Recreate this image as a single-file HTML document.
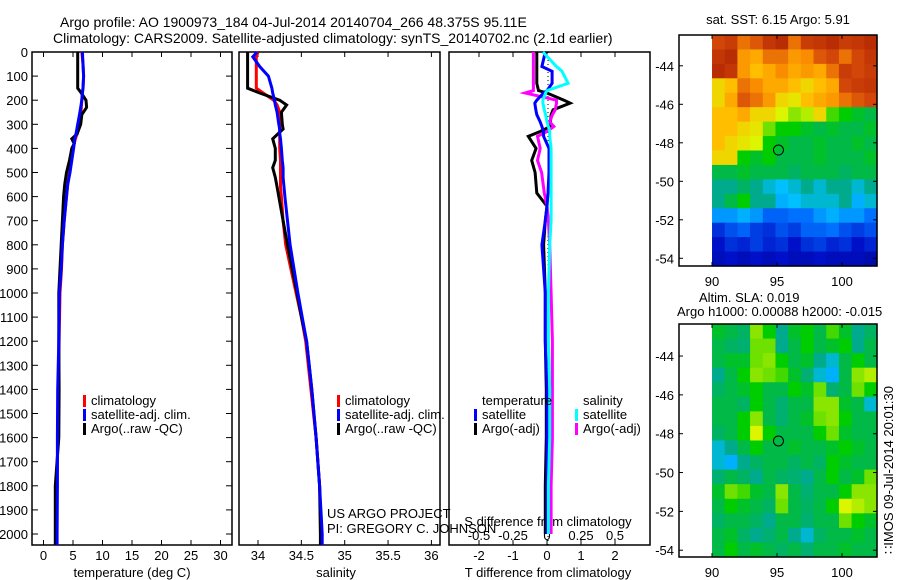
<!DOCTYPE html>
<html><head><meta charset="utf-8"><style>
body{margin:0;background:#fff;}
svg{display:block;font-family:"Liberation Sans",sans-serif;}
text{font-size:13px;fill:#000;}
</style></head><body>
<svg id="chart" width="900" height="580" viewBox="0 0 900 580" xmlns="http://www.w3.org/2000/svg">
<text x="60" y="27" style="font-size:14px">Argo profile: AO 1900973_184 04-Jul-2014 20140704_266 48.375S 95.11E</text>
<text x="53" y="43" style="font-size:14px">Climatology: CARS2009. Satellite-adjusted climatology: synTS_20140702.nc (2.1d earlier)</text>
<g id="g"></g>
</svg>
<script>
// ---- data ----
const depthTicks=[0,100,200,300,400,500,600,700,800,900,1000,1100,1200,1300,1400,1500,1600,1700,1800,1900,2000];
const tTicks=[0,5,10,15,20,25,30];
const sTicks=[34,34.5,35,35.5,36];
const dtTicks=[-2,-1,0,1,2];
const dsTicks=[-0.5,-0.25,0,0.25,0.5];
const dsTickLabels=["-0.5","-0.25","0","0.25","0.5"];
const tDepth=[0,50,100,150,170,200,230,260,300,340,360,380,400,450,500,550,600,700,800,900,1000,1200,1400,1600,1800,2000,2046];
const tClim=[6.5,6.7,6.8,6.7,6.6,6.5,6.4,6.3,6.0,5.7,5.4,5.2,5.0,4.7,4.4,4.1,3.9,3.5,3.2,3.05,2.8,2.65,2.5,2.4,2.3,2.2,2.0];
const tArgo=[5.8,5.8,5.8,5.8,6.4,7.2,7.3,6.5,6.3,5.7,4.8,5.2,4.8,4.4,3.9,3.6,3.4,3.2,3.0,2.8,2.6,2.6,2.65,2.6,2.0,2.0,2.0];
const tSat=[6.6,6.7,6.8,6.7,6.6,6.5,6.3,6.1,5.8,5.5,5.3,5.2,5.1,4.8,4.5,4.1,3.9,3.5,3.2,3.0,2.7,2.6,2.4,2.35,2.35,2.3,2.3];
const sDepth=[0,20,60,100,150,170,200,220,250,300,320,340,360,400,450,480,520,560,600,700,800,1000,1100,1200,1400,1600,1800,2000,2046];
const sClim=[34.0,33.98,33.98,33.98,33.98,34.06,34.18,34.22,34.25,34.25,34.25,34.25,34.25,34.25,34.26,34.26,34.26,34.26,34.27,34.29,34.32,34.44,34.5,34.55,34.61,34.67,34.71,34.73,34.73];
const sArgo=[33.88,33.88,33.88,33.88,33.88,34.02,34.25,34.33,34.27,34.28,34.29,34.23,34.17,34.2,34.2,34.17,34.2,34.22,34.24,34.29,34.34,34.45,34.5,34.56,34.62,34.67,34.71,34.72,34.72];
const sSat=[33.99,33.94,34.02,34.12,34.16,34.17,34.19,34.2,34.22,34.24,34.25,34.25,34.26,34.27,34.28,34.29,34.29,34.3,34.31,34.34,34.37,34.46,34.51,34.56,34.62,34.67,34.71,34.74,34.74];
const dDepth=[0,60,80,130,160,170,200,212,240,260,290,309,330,350,400,450,500,585,640,700,800,1000,1200,1400,1600,1800,2000];
const dTArgo=[-0.3,-0.3,-0.3,-0.3,-0.25,0,0.5,0.68,0.18,0.12,0.1,0.1,-0.2,-0.55,-0.32,-0.45,-0.35,-0.3,0,-0.05,-0.1,-0.05,-0.05,-0.02,-0.02,-0.05,-0.05];
const dTSat=[-0.05,-0.15,0.15,0.15,0.0,-0.1,-0.3,-0.36,-0.33,-0.3,-0.2,-0.15,-0.1,-0.1,0.06,0.06,0.06,0.03,0.0,-0.05,-0.15,-0.05,-0.05,0,0,0,0];
const dSSat=[-0.03,0.07,0.11,0.155,0.0,-0.01,-0.03,-0.03,-0.02,-0.01,0.0,0.01,0.02,0.02,0.03,0.03,0.03,0.03,0.03,0.03,0.02,0.01,0.01,0.02,0.02,0.01,0.01];
const dSArgo=[-0.1,-0.1,-0.1,-0.1,-0.1,-0.16,0.07,0.07,0.06,0.04,0.02,0.05,0.0,-0.07,-0.05,-0.07,-0.04,-0.02,0.0,0.01,0.02,0.03,0.04,0.04,0.04,0.03,0.03];
const lonTicks=[90,95,100];
const latTicks=[-44,-46,-48,-50,-52,-54];
const sstGrid=[
[0.9,0.92,0.85,0.88,0.93,0.95,0.85,0.92,0.93,0.95,0.92,0.93,0.95],
[0.93,0.95,0.8,0.78,0.85,0.85,0.8,0.82,0.88,0.9,0.85,0.9,0.93],
[0.95,0.93,0.8,0.75,0.78,0.82,0.78,0.8,0.78,0.85,0.92,0.9,0.92],
[0.72,0.75,0.85,0.82,0.78,0.78,0.75,0.72,0.75,0.78,0.9,0.92,0.93],
[0.72,0.78,0.88,0.85,0.8,0.72,0.7,0.75,0.78,0.8,0.85,0.88,0.9],
[0.75,0.75,0.78,0.72,0.72,0.68,0.62,0.65,0.72,0.58,0.55,0.52,0.5],
[0.75,0.75,0.72,0.7,0.6,0.55,0.55,0.52,0.5,0.52,0.5,0.5,0.52],
[0.75,0.72,0.7,0.68,0.55,0.52,0.5,0.5,0.52,0.5,0.5,0.52,0.5],
[0.72,0.72,0.55,0.52,0.55,0.5,0.5,0.5,0.52,0.5,0.5,0.5,0.52],
[0.5,0.5,0.52,0.5,0.5,0.5,0.48,0.5,0.5,0.5,0.48,0.5,0.5],
[0.45,0.45,0.48,0.45,0.42,0.4,0.42,0.45,0.42,0.45,0.45,0.42,0.45],
[0.45,0.5,0.55,0.45,0.45,0.38,0.4,0.42,0.42,0.42,0.45,0.38,0.42],
[0.35,0.35,0.38,0.35,0.28,0.28,0.3,0.3,0.35,0.38,0.35,0.35,0.3],
[0.2,0.25,0.28,0.22,0.2,0.25,0.22,0.28,0.28,0.3,0.25,0.22,0.25],
[0.15,0.2,0.18,0.22,0.18,0.2,0.15,0.2,0.22,0.18,0.2,0.15,0.18],
[0.12,0.15,0.12,0.15,0.12,0.15,0.12,0.12,0.15,0.12,0.12,0.12,0.1]];
const slaGrid=[
[0.52,0.5,0.48,0.62,0.55,0.45,0.52,0.55,0.5,0.58,0.52,0.45,0.48],
[0.5,0.48,0.47,0.6,0.6,0.45,0.5,0.55,0.5,0.52,0.55,0.45,0.5],
[0.5,0.52,0.52,0.6,0.62,0.55,0.5,0.52,0.45,0.42,0.5,0.55,0.5],
[0.45,0.5,0.55,0.62,0.6,0.58,0.52,0.47,0.42,0.38,0.5,0.62,0.65],
[0.48,0.5,0.52,0.55,0.5,0.5,0.55,0.52,0.6,0.47,0.5,0.6,0.55],
[0.5,0.5,0.48,0.55,0.5,0.47,0.5,0.5,0.62,0.62,0.52,0.5,0.42],
[0.5,0.5,0.55,0.62,0.5,0.47,0.5,0.52,0.6,0.62,0.55,0.5,0.5],
[0.48,0.5,0.55,0.68,0.55,0.5,0.5,0.5,0.55,0.6,0.52,0.5,0.5],
[0.42,0.45,0.5,0.55,0.5,0.5,0.52,0.5,0.5,0.52,0.55,0.52,0.5],
[0.42,0.38,0.45,0.48,0.5,0.5,0.48,0.5,0.48,0.55,0.52,0.5,0.5],
[0.47,0.5,0.48,0.45,0.5,0.48,0.47,0.45,0.5,0.55,0.5,0.52,0.6],
[0.52,0.6,0.58,0.52,0.5,0.62,0.5,0.47,0.5,0.5,0.55,0.62,0.62],
[0.5,0.55,0.52,0.5,0.48,0.6,0.5,0.48,0.5,0.55,0.68,0.65,0.62],
[0.48,0.5,0.5,0.48,0.45,0.5,0.5,0.47,0.5,0.5,0.6,0.55,0.52],
[0.5,0.52,0.48,0.45,0.47,0.5,0.45,0.42,0.48,0.5,0.5,0.52,0.5],
[0.5,0.55,0.5,0.52,0.5,0.48,0.5,0.47,0.5,0.5,0.52,0.5,0.5]];
const argoLon=[95.11];
const argoLat=[-48.375];

// ---- helpers ----
const NS="http://www.w3.org/2000/svg";
const G=document.getElementById('g');
function mk(tag,attrs,parent){const e=document.createElementNS(NS,tag);for(const k in attrs)e.setAttribute(k,attrs[k]);(parent||G).appendChild(e);return e;}
function txt(x,y,s,anchor,size,name){const t=mk('text',{x:x,y:y,'text-anchor':anchor||'start'});if(size)t.style.fontSize=size+'px';t.textContent=s;


return t;}
const TOP=52,BOT=545;
const yD=d=>TOP+d*0.241;
const xT=v=>43.5+v*5.9;
const xS=v=>258+(v-34)*86.7;
const xDT=v=>547+v*34;
const xDS=v=>547+v*136;
const panels=[[32,232],[239,440],[449,650]];
panels.forEach((p,i)=>{const r=mk('rect',{x:p[0],y:TOP,width:p[1]-p[0],height:BOT-TOP,fill:'none',stroke:'#000','stroke-width':1.5});

});
depthTicks.forEach(d=>{const y=yD(d);
mk('line',{x1:32,x2:38,y1:y,y2:y,stroke:'#000'});mk('line',{x1:226,x2:232,y1:y,y2:y,stroke:'#000'});
txt(28,y+5,String(d),'end',13,'depth-tick-label');});
function xticks(vals,fx,labels,name){vals.forEach((v,i)=>{const x=fx(v);
mk('line',{x1:x,x2:x,y1:TOP,y2:TOP+5,stroke:'#000'});mk('line',{x1:x,x2:x,y1:BOT-5,y2:BOT,stroke:'#000'});
if(labels)txt(x,560,labels[i],'middle',13,name);});}
xticks(tTicks,xT,tTicks.map(String),'temperature-tick-label');
xticks(sTicks,xS,sTicks.map(String),'salinity-tick-label');
xticks(dtTicks,xDT,dtTicks.map(String),'t-diff-tick-label');
dsTicks.forEach((v,i)=>txt(xDS(v),540,dsTickLabels[i],'middle',13,'s-diff-tick-label'));
txt(132,577,'temperature (deg C)','middle',13,'temperature-axis-title');
txt(336,577,'salinity','middle',13,'salinity-axis-title');
txt(548,577,'T difference from climatology','middle',13,'t-diff-axis-title');
txt(548,526,'S difference from climatology','middle',13,'s-diff-axis-title');
mk('line',{x1:548,x2:548,y1:TOP,y2:BOT,stroke:'#000','stroke-dasharray':'1 3'});
function line(depths,vals,fx,col,name){const pts=depths.map((d,i)=>fx(vals[i]).toFixed(1)+','+yD(d).toFixed(1)).join(' ');
const p=mk('polyline',{points:pts,fill:'none',stroke:col,'stroke-width':3,'stroke-linejoin':'miter'});

}
line(tDepth,tClim,xT,'#ff0000','temperature-climatology-line');
line(tDepth,tArgo,xT,'#000','temperature-argo-line');
line(tDepth,tSat,xT,'#0000ff','temperature-satellite-line');
line(sDepth,sClim,xS,'#ff0000','salinity-climatology-line');
line(sDepth,sArgo,xS,'#000','salinity-argo-line');
line(sDepth,sSat,xS,'#0000ff','salinity-satellite-line');
line(dDepth,dTArgo,xDT,'#000','t-diff-argo-line');
line(dDepth,dSArgo,xDS,'#ff00ff','s-diff-argo-line');
line(dDepth,dTSat,xDT,'#0000ff','t-diff-satellite-line');
line(dDepth,dSSat,xDS,'#00ffff','s-diff-satellite-line');
function legend(x,y,col,label,name){if(col)mk('rect',{x:x,y:y-10,width:3,height:12,fill:col});
txt(x+8,y,label,'start',13,name);}
[['#ff0000','climatology'],['#0000ff','satellite-adj. clim.'],['#000','Argo(..raw -QC)']].forEach((e,i)=>{
legend(83,405+i*14,e[0],e[1],'temperature-legend-entry');legend(337,405+i*14,e[0],e[1],'salinity-legend-entry');});
legend(474,405,null,'temperature','diff-legend-header');
legend(474,419,'#0000ff','satellite','diff-legend-entry');
legend(474,433,'#000','Argo(-adj)','diff-legend-entry');
legend(575,405,null,'salinity','diff-legend-header');
legend(575,419,'#00ffff','satellite','diff-legend-entry');
legend(575,433,'#ff00ff','Argo(-adj)','diff-legend-entry');
txt(327,518,'US ARGO PROJECT','start',13,'project-credit');
txt(327,533,'PI: GREGORY C. JOHNSON','start',13,'pi-credit');
// ---- maps ----
const stops=[[0,[0,0,128]],[0.15,[0,16,200]],[0.3,[0,112,255]],[0.4,[0,192,255]],[0.45,[0,170,140]],[0.5,[0,185,70]],[0.55,[0,205,0]],[0.6,[110,225,0]],[0.68,[220,245,0]],[0.75,[255,190,0]],[0.82,[250,140,0]],[0.9,[210,70,10]],[1,[160,20,0]]];
function cmap(v){for(let i=1;i<stops.length;i++){if(v<=stops[i][0]){const a=stops[i-1],b=stops[i],t=(v-a[0])/(b[0]-a[0]);
return 'rgb('+a[1].map((c,j)=>Math.round(c+(b[1][j]-c)*t)).join(',')+')';}}return 'rgb(160,20,0)';}
function drawMap(top,bot,latTop,grid,name){
const left=679,right=877,lon0=87.46,pxLon=13,pxLat=(bot-top)/12;
const X=l=>left+(l-lon0)*pxLon, Y=la=>top+(latTop-la)*pxLat;
const rows=grid.length,cols=grid[0].length;const cw=(right-X(90))/cols,ch=(bot-top)/rows;
grid.forEach((row,r)=>row.forEach((v,c)=>{const cell=mk('rect',{x:X(90)+c*cw,y:top+r*ch,width:cw+0.6,height:ch+0.6,fill:cmap(v)});

}));
const fr=mk('rect',{x:left,y:top,width:right-left,height:bot-top,fill:'none',stroke:'#000','stroke-width':1.5});


latTicks.forEach(la=>{const y=Y(la);mk('line',{x1:left,x2:left+4,y1:y,y2:y,stroke:'#000'});mk('line',{x1:right-4,x2:right,y1:y,y2:y,stroke:'#000'});
txt(674,y+5,String(la),'end',13,name+'-lat-label');});
lonTicks.forEach(lo=>{const x=X(lo);mk('line',{x1:x,x2:x,y1:top,y2:top+4,stroke:'#000'});mk('line',{x1:x,x2:x,y1:bot-4,y2:bot,stroke:'#000'});
txt(x,bot+20,String(lo),'middle',13,name+'-lon-label');});
const c=mk('circle',{cx:X(argoLon[0]),cy:Y(argoLat[0]),r:5,fill:'none',stroke:'#000','stroke-width':1});


}
drawMap(35,266,-42.4,sstGrid,'sst-map');
drawMap(324,557,-42.35,slaGrid,'sla-map');
txt(778,24,'sat. SST: 6.15 Argo: 5.91','middle',13,'sst-map-title');
txt(699,302,'Altim. SLA: 0.019','start',13,'sla-map-title');
txt(677,316,'Argo h1000: 0.00088 h2000: -0.015','start',13,'sla-argo-heights');
const ts=txt(0,0,'\u2237IMOS 09-Jul-2014 20:01:30','middle',13,'timestamp');
ts.setAttribute('transform','translate(893,470) rotate(-90)');
</script>
</body></html>
